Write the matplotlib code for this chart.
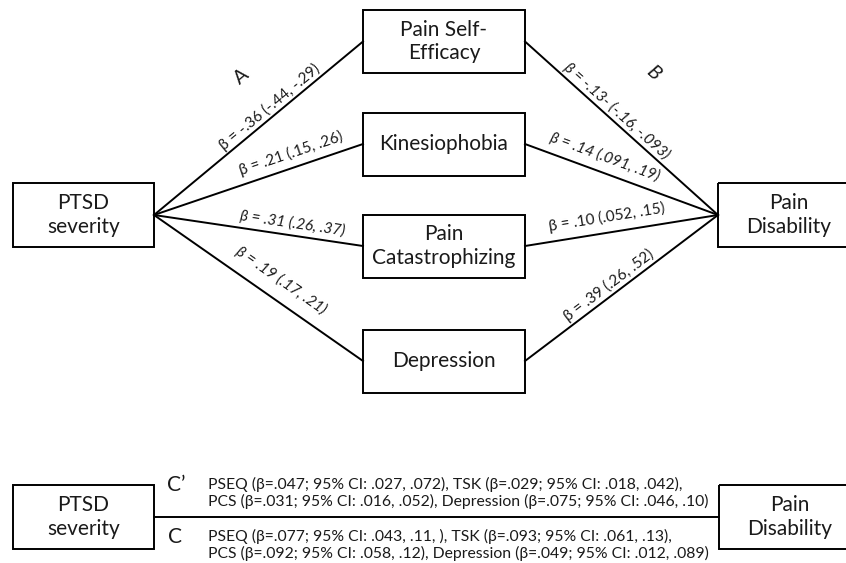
import numpy as np
import matplotlib.pyplot as plt
from matplotlib.patches import Rectangle

plt.rcParams['font.family'] = ['Lato', 'DejaVu Sans']

# mediation model: PTSD severity -> mediators -> pain disability
mediators = ["Pain Self-\nEfficacy", "Kinesiophobia", "Pain\nCatastrophizing", "Depression"]
a_labels = ["β = -.36 (-.44, -.29)", "β = .21 (.15, .26)",
            "β = .31 (.26, .37)", "β = .19 (.17, .21)"]
b_labels = ["β = -.13- (-.16, -.093)", "β = .14 (.091, .19)",
            "β = .10 (.052, .15)", "β = .39 (.26, .52)"]
c_prime_lines = ["PSEQ (β=.047; 95% CI: .027, .072), TSK (β=.029; 95% CI: .018, .042),",
                 "PCS (β=.031; 95% CI: .016, .052), Depression (β=.075; 95% CI: .046, .10)"]
c_lines = ["PSEQ (β=.077; 95% CI: .043, .11, ), TSK (β=.093; 95% CI: .061, .13),",
           "PCS (β=.092; 95% CI: .058, .12), Depression (β=.049; 95% CI: .012, .089)"]

# layout (pixel coordinates, y pointing down)
med_y = [41.5, 144, 246, 361]
a_pos = [(270, 107), (291, 153), (292, 223), (281, 280)]
b_pos = [(617, 111), (605, 157), (607, 217), (609, 285)]
a_italic = [False, False, True, True]
b_italic = [True, True, False, False]

fig = plt.figure(figsize=(8.46, 5.63), dpi=100)
ax = fig.add_axes([0, 0, 1, 1])
ax.set_xlim(0, 846)
ax.set_ylim(563, 0)
ax.axis('off')

lw = 1.4
box_fs = 15
lab_fs = 11
ink = '#1a1a1a'


def box(x0, y0, x1, y1, text):
    ax.add_patch(Rectangle((x0, y0), x1 - x0, y1 - y0, fill=False, lw=lw, ec='black'))
    ax.text((x0 + x1) / 2, (y0 + y1) / 2, text, ha='center', va='center',
            fontsize=box_fs, linespacing=1.2, color=ink)


def angle(p, q):
    return np.degrees(np.arctan2(p[1] - q[1], q[0] - p[0]))


# top model
src = (154, 215)
dst = (718, 215)
box(13, 183, 154, 247, "PTSD\nseverity")
box(718, 183, 860, 247, "Pain\nDisability")

for i, name in enumerate(mediators):
    y = med_y[i]
    box(363, y - 31.5, 525, y + 31.5, name)
    left = (363, y)
    right = (525, y)
    ax.plot([src[0], left[0]], [src[1], left[1]], color='black', lw=lw)
    ax.plot([right[0], dst[0]], [right[1], dst[1]], color='black', lw=lw)
    ax.text(a_pos[i][0], a_pos[i][1], a_labels[i], rotation=angle(src, left),
            rotation_mode='anchor', ha='center', va='center', fontsize=lab_fs,
            style='italic' if a_italic[i] else 'normal', color=ink)
    ax.text(b_pos[i][0], b_pos[i][1], b_labels[i], rotation=angle(right, dst),
            rotation_mode='anchor', ha='center', va='center', fontsize=lab_fs,
            style='italic' if b_italic[i] else 'normal', color=ink)

ax.text(242, 77, "A", rotation=angle(src, (363, med_y[0])), rotation_mode='anchor',
        ha='center', va='center', fontsize=14, color=ink)
ax.text(653, 73, "B", rotation=angle((525, med_y[0]), dst), rotation_mode='anchor',
        ha='center', va='center', fontsize=14, style='italic', color=ink)

# bottom model (total / direct effects)
box(13, 485, 154, 549, "PTSD\nseverity")
box(719, 485, 860, 549, "Pain\nDisability")
ax.plot([154, 719], [517, 517], color='black', lw=lw)
ax.text(176, 485, "C’", ha='center', va='center', fontsize=15, color=ink)
ax.text(175, 537, "C", ha='center', va='center', fontsize=15, color=ink)
for k, t in enumerate(c_prime_lines):
    ax.text(208, 484 + 17.5 * k, t, ha='left', va='center', fontsize=11.3, color=ink)
for k, t in enumerate(c_lines):
    ax.text(208, 536 + 17.5 * k, t, ha='left', va='center', fontsize=11.3, color=ink)

fig.savefig('out.png', dpi=100, facecolor='white')
